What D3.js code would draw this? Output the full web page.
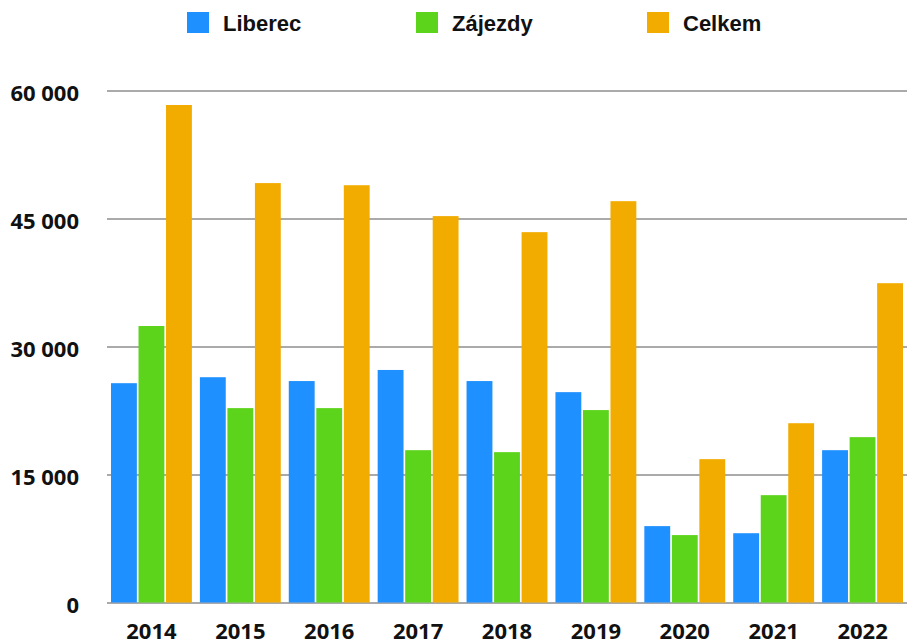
<!DOCTYPE html>
<html>
<head>
<meta charset="utf-8">
<script src="https://cdn.jsdelivr.net/npm/d3@7"></script>
<style>
  html, body { margin: 0; padding: 0; background: #fff; }
  svg { display: block; }
</style>
</head>
<body>
<svg id="chart" width="907" height="643"></svg>
<script>
const years = ["2014", "2015", "2016", "2017", "2018", "2019", "2020", "2021", "2022"];
const seriesNames = ["Liberec", "Zájezdy", "Celkem"];
const liberec = [25700, 26400, 25950, 27250, 25950, 24650, 8950, 8120, 17850];
const zajezdy = [32400, 22780, 22780, 17850, 17620, 22550, 7900, 12580, 19380];
const celkem  = [58300, 49150, 48900, 45280, 43400, 47030, 16800, 21010, 37420];
const yTicks = [0, 15000, 30000, 45000, 60000];
const colors = ["#1E90FF", "#5DD41C", "#F2AC00"];

const seriesValues = [liberec, zajezdy, celkem];
const svg = d3.select("#chart");
const plotLeft = 107, plotRight = 907, plotTop = 90.5, plotBottom = 602.5;

const x = d3.scaleBand().domain(years).range([plotLeft, plotRight]).paddingInner(0.09).paddingOuter(0.045);
const xs = d3.scaleBand().domain(seriesNames).range([0, x.bandwidth()]).paddingInner(0.06);
const y = d3.scaleLinear().domain([0, 60000]).range([plotBottom, plotTop]);
const color = d3.scaleOrdinal().domain(seriesNames).range(colors);

const fmt = v => d3.format(",")(v).replace(/,/g, " ");

// gridlines
const yAxis = d3.axisLeft(y).tickValues(yTicks).tickSize(-(plotRight - plotLeft)).tickFormat(fmt).tickPadding(28);
const gy = svg.append("g").attr("transform", `translate(${plotLeft},0)`).call(yAxis);
gy.select(".domain").remove();
gy.selectAll(".tick line").attr("stroke", "#aaaaaa").attr("stroke-width", 2);
gy.selectAll(".tick text")
  .attr("font-family", "'Open Sans', sans-serif")
  .attr("font-weight", "bold")
  .attr("font-size", 22)
  .attr("fill", "#111")
  .attr("dy", "0.45em");

// bars
const groups = svg.append("g").selectAll("g")
  .data(years)
  .join("g")
  .attr("transform", d => `translate(${x(d)},0)`);

groups.selectAll("rect")
  .data((d, i) => seriesNames.map((s, j) => ({ s, v: seriesValues[j][i] })))
  .join("rect")
  .attr("x", d => xs(d.s))
  .attr("width", xs.bandwidth())
  .attr("y", d => y(d.v))
  .attr("height", d => y(0) - y(d.v))
  .attr("fill", d => color(d.s));

// x axis labels
const xAxis = d3.axisBottom(x).tickSize(0).tickPadding(0);
const gx = svg.append("g").attr("transform", `translate(0,${plotBottom})`).call(xAxis);
gx.select(".domain").remove();
gx.selectAll(".tick text")
  .attr("font-family", "'Open Sans', sans-serif")
  .attr("font-weight", "bold")
  .attr("font-size", 22)
  .attr("fill", "#111")
  .attr("y", 36)
  .attr("dy", 0);

// legend
const legendX = [187, 416, 647];
const lg = svg.append("g").selectAll("g")
  .data(seriesNames)
  .join("g")
  .attr("transform", (d, i) => `translate(${legendX[i]},12)`);
lg.append("rect").attr("width", 22).attr("height", 21).attr("fill", d => color(d));
lg.append("text")
  .attr("x", 36)
  .attr("y", 19)
  .attr("font-family", "'Liberation Sans', Arial, sans-serif")
  .attr("font-weight", "bold")
  .attr("font-size", 22)
  .attr("fill", "#111")
  .text(d => d);
</script>
</body>
</html>
